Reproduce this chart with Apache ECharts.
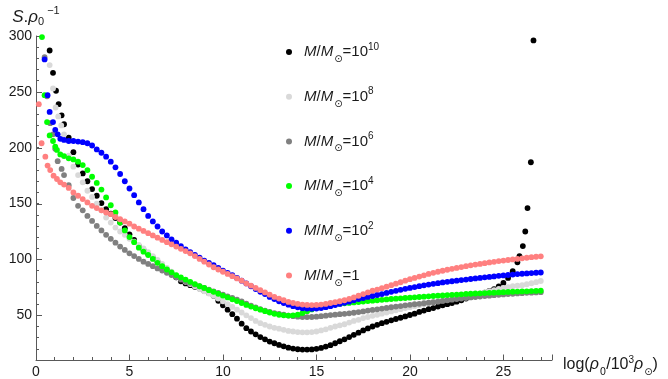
<!DOCTYPE html>
<html>
<head>
<meta charset="utf-8">
<script src="https://cdn.jsdelivr.net/npm/echarts@6/dist/echarts.min.js"></script>
<style>
  html, body { margin: 0; padding: 0; background: #fff; }
  #main { width: 668px; height: 379px; }
</style>
</head>
<body>
<div id="main"></div>
<script>
// shared x grid (log(rho0/10^3 rho_sun)) for the dense part of every curve
var xs = [1.5, 1.75,
  2, 2.25, 2.5, 2.75, 3, 3.25, 3.5, 3.75, 4, 4.25, 4.5, 4.75, 5, 5.25, 5.5, 5.75,
  6, 6.25, 6.5, 6.75, 7, 7.25, 7.5, 7.75, 8, 8.25, 8.5, 8.75, 9, 9.25, 9.5, 9.75,
  10, 10.25, 10.5, 10.75, 11, 11.25, 11.5, 11.75, 12, 12.25, 12.5, 12.75, 13, 13.25, 13.5, 13.75,
  14, 14.25, 14.5, 14.75, 15, 15.25, 15.5, 15.75, 16, 16.25, 16.5, 16.75, 17, 17.25, 17.5, 17.75,
  18, 18.25, 18.5, 18.75, 19, 19.25, 19.5, 19.75, 20, 20.25, 20.5, 20.75, 21, 21.25, 21.5, 21.75,
  22, 22.25, 22.5, 22.75, 23, 23.25, 23.5, 23.75, 24, 24.25, 24.5, 24.75, 25, 25.25, 25.5, 25.75,
  26, 26.25, 26.5, 26.75, 27];

// M/Msun = 10^10
var headBlack = [[0.73, 287], [0.91, 267], [1.07, 251], [1.21, 239], [1.37, 229]];
var yBlack = [221, 209,
  196, 185, 177, 170, 163, 157, 150.5, 145, 141, 137, 133, 128, 122.5, 117.5, 112, 108.5,
  105, 101.5, 98, 94.5, 91, 87.5, 84, 80.5, 78.5, 77, 75.5, 74, 72, 70, 67.5, 63,
  59, 55, 51, 47, 42.5, 38.5, 35.5, 33, 30.5, 28.5, 26.5, 25, 23.5, 22.2, 21, 20.2,
  19.6, 19.3, 19.3, 19.5, 20, 20.8, 22, 23.3, 25, 26.8, 28.5, 30.5, 32.5, 34.5, 36.5, 38.3,
  40, 41.5, 43, 44.2, 45.5, 46.7, 47.8, 49, 50.3, 51.5, 53, 54.2, 55.5, 56.5, 57.8, 59,
  60, 61, 62.2, 63.5, 65, 66.3, 67.7, 69, 70.3, 71.8, 73.5, 75.8, 79, 83.5, 89.5, 97.5,
  null, null, null, null, null];
var tailBlack = [[25.86, 103], [26.04, 112], [26.17, 125], [26.29, 146], [26.47, 187], [26.61, 296]];

// M/Msun = 10^8
var headLight = [[0.73, 274], [0.91, 253], [1.05, 236], [1.19, 228], [1.35, 220]];
var yLight = [212, 193,
  183, 175.5, 169, 161.5, 156, 150, 144, 137.5, 133, 128.5, 125, 122, 118.5, 116, 113, 110,
  106.5, 103, 99.5, 96, 92.5, 89, 85.5, 82.5, 80, 78, 76, 73.5, 71.5, 69.5, 67.5, 65,
  62.5, 60, 57.5, 55, 52.5, 50, 47.5, 45, 43, 41.5, 40, 38.8, 38, 37, 36, 35.5,
  35, 34.8, 34.8, 35, 35.5, 36.5, 37.5, 38.8, 40, 41, 42, 43.5, 45, 46, 47.5, 48.5,
  49.5, 50.5, 51.5, 52.5, 53.5, 54.5, 55.5, 56.5, 57.3, 58.2, 59, 60, 61, 61.8, 62.5, 63.3,
  64, 64.8, 65.5, 66.3, 67, 67.8, 68.7, 69.5, 70.5, 71.6, 72.6, 73.7, 74.6, 75.3, 76, 76.5,
  77, 77.8, 78.7, 79.7, 80.7];

// M/Msun = 10^6
var headGray = [[0.46, 281], [0.59, 246], [0.76, 222], [0.91, 212], [1.03, 199], [1.16, 188], [1.37, 181]];
var yGray = [175.5, 166.5,
  155, 148, 144, 139, 134.5, 130, 126, 122, 118.5, 115, 111.5, 108.5, 105.5, 103, 100.5, 98,
  96, 94, 92, 90, 88, 86, 84, 82, 80.5, 79, 77.5, 76, 74.5, 73, 71.5, 70,
  68.5, 67, 65.5, 64, 62.5, 60.5, 58.7, 57, 55.5, 54.2, 53, 52, 51.3, 50.5, 49.8, 49.2,
  48.8, 48.5, 48.4, 48.5, 48.8, 49.2, 49.7, 50.2, 50.6, 51, 51.3, 51.8, 52.3, 52.9, 53.5, 54.2,
  54.8, 55.4, 56, 56.6, 57.2, 57.8, 58.3, 58.9, 59.4, 59.9, 60.3, 60.8, 61.3, 61.8, 62.3, 62.9,
  63.5, 64, 64.5, 65, 65.5, 66, 66.4, 66.8, 67.2, 67.6, 68, 68.4, 68.7, 69, 69.3, 69.6,
  69.8, 70.1, 70.3, 70.5, 70.7];

// M/Msun = 10^4
var headGreen = [[0.32, 299], [0.46, 247], [0.59, 223], [0.73, 211], [0.91, 206], [1.03, 201], [1.12, 198], [1.3, 194]];
var yGreen = [192.5, 190.5,
  189.5, 187.5, 184.5, 180, 174, 168.5, 162.5, 155.5, 148.5, 142, 133, 126, 120, 115.5, 110.5, 107,
  104, 100.5, 97, 94, 91, 88.5, 86, 84, 82, 80, 78, 76, 74.5, 72.5, 71, 69.3,
  67.6, 66, 64.3, 62.7, 61, 59.3, 57.8, 56.3, 55, 53.7, 52.5, 51.3, 50.5, 50, 49.8, 50,
  50.6, 52, 53.7, 55.3, 56.6, 57.6, 58.5, 59.2, 59.8, 60.3, 60.7, 61.1, 61.5, 61.9, 62.3, 62.7,
  63.1, 63.5, 63.9, 64.2, 64.6, 64.9, 65.2, 65.5, 65.8, 66.1, 66.4, 66.7, 67, 67.3, 67.6, 67.8,
  68.1, 68.3, 68.6, 68.8, 69.1, 69.3, 69.5, 69.7, 69.9, 70.1, 70.3, 70.5, 70.7, 70.9, 71.1, 71.2,
  71.4, 71.5, 71.7, 71.8, 72];

// M/Msun = 10^2
var headBlue = [[0.46, 279], [0.62, 247], [0.73, 232], [0.91, 223], [1.03, 216], [1.16, 212], [1.3, 208]];
var yBlue = [207, 206,
  206, 205.5, 205, 204, 202, 198.5, 195.5, 192, 187.5, 182.5, 176.5, 170, 163.5, 157.5, 151, 145,
  139, 134, 129.5, 125, 121.5, 118, 115, 112, 109, 106.5, 104, 101.5, 99, 97, 95, 92.5,
  90, 88, 86, 83.5, 81, 78.5, 76, 73.5, 71, 69, 66.5, 64.5, 62.5, 61, 59.5, 58.2,
  57.2, 56.4, 56, 55.8, 56, 56.5, 57.3, 58.2, 59.2, 60.2, 61.2, 62.2, 63.5, 64.5, 65.5, 66.5,
  67.3, 68.2, 69, 70, 71, 71.9, 72.8, 73.7, 74.5, 75.3, 76.1, 76.8, 77.5, 78.2, 78.8, 79.4,
  80, 80.5, 81, 81.5, 82, 82.5, 83, 83.5, 84, 84.4, 84.8, 85.3, 85.7, 86.1, 86.5, 86.9,
  87.2, 87.5, 87.8, 88.1, 88.3];

// M/Msun = 1
var headPink = [[0.15, 239], [0.3, 204], [0.5, 192], [0.62, 184], [0.76, 180], [0.94, 175], [1.12, 172], [1.3, 169]];
var yPink = [167, 164,
  160, 157, 154, 151, 148, 146, 144, 142, 140.5, 138, 136, 134, 132, 129.5, 127.5, 125.5,
  123.5, 121.5, 119.5, 117.5, 115.5, 113.5, 111.5, 109.5, 107.5, 105.5, 103, 100.5, 98, 95.5, 93, 91,
  89, 87, 85, 83, 81, 78.5, 76.5, 74.5, 72.5, 70.5, 68.5, 66.5, 65, 63.5, 62, 61,
  60.2, 59.6, 59.3, 59.2, 59.3, 59.6, 60.2, 61, 61.8, 62.6, 63.5, 64.7, 66, 67.5, 69, 70.5,
  72, 73, 74.3, 75.6, 77, 78.3, 79.6, 81, 82.3, 83.5, 84.7, 85.8, 87, 88, 89, 89.9,
  90.8, 91.6, 92.4, 93.2, 94, 94.7, 95.4, 96, 96.7, 97.3, 97.9, 98.5, 99, 99.5, 100, 100.5,
  101, 101.5, 102, 102.4, 102.8];

var names = ['M/M⊙=10^10', 'M/M⊙=10^8', 'M/M⊙=10^6', 'M/M⊙=10^4', 'M/M⊙=10^2', 'M/M⊙=1'];
var exps = ['10', '8', '6', '4', '2', ''];
var colors = ['#000000', '#d9d9d9', '#808080', '#00ff00', '#0000ff', '#ff8080'];

var xMajor = [0, 5, 10, 15, 20, 25];
var yMajor = [50, 100, 150, 200, 250, 300];

function build(head, ys, tail) {
  var pts = head.slice();
  xs.forEach(function (x, i) {
    if (ys[i] != null) pts.push([x, ys[i]]);
  });
  return pts.concat(tail || []);
}

var seriesData = [
  build(headBlack, yBlack, tailBlack),
  build(headLight, yLight),
  build(headGray, yGray),
  build(headGreen, yGreen),
  build(headBlue, yBlue),
  build(headPink, yPink)
];

var FONT = '"Liberation Sans", Arial, sans-serif';
var AXIS = '#595959';
var TXT = '#1a1a1a';

var subSup = function (size, subDrop, supRise) {
  return {
    n: { fontSize: size, fontFamily: FONT, color: TXT, lineHeight: 20 },
    i: { fontSize: size, fontStyle: 'italic', fontFamily: FONT, color: TXT, lineHeight: 20 },
    sub: { fontSize: 10, fontFamily: 'DejaVu Sans', color: TXT, padding: [subDrop, 0, 0, 1], lineHeight: 10 },
    sup: { fontSize: 10, fontFamily: FONT, color: TXT, padding: [0, 0, supRise, 0], lineHeight: 10 }
  };
};

var chart = echarts.init(document.getElementById('main'), null, { renderer: 'canvas' });

// extra axes that only carry ticks
var tickAxis = function (base, len) {
  return Object.assign({
    type: 'value',
    axisLine: { show: false },
    axisLabel: { show: false },
    splitLine: { show: false },
    axisTick: { show: true, inside: true, length: len, lineStyle: { color: AXIS, width: 1 } }
  }, base);
};

chart.setOption({
  animation: false,
  backgroundColor: '#fff',
  textStyle: { fontFamily: FONT },
  grid: { left: 36, right: 116, top: 36, bottom: 17.6, containLabel: false },
  legend: {
    orient: 'vertical',
    left: 281,
    top: 34.5,
    itemWidth: 6,
    itemHeight: 6,
    itemGap: 19.7,
    icon: 'circle',
    data: names,
    formatter: function (name) {
      var e = exps[names.indexOf(name)];
      return '{i|M}{n|/}{i|M}{sub|⊙}' + (e ? '{n|=10}{sup|' + e + '}' : '{n|=1}');
    },
    textStyle: { padding: [0, 0, 0, 7], color: TXT, rich: subSup(15, 15, 10) }
  },
  xAxis: [{
    type: 'value',
    min: 0,
    max: 27.6,
    name: '{n|log(}{i|ρ}{sub|0}{n|/10}{sup|3}{i|ρ}{sub|⊙}{n|)}',
    nameLocation: 'end',
    nameGap: 11,
    nameTextStyle: { padding: [10, 0, 0, 0], rich: subSup(16, 14, 10) },
    axisLine: { lineStyle: { color: AXIS, width: 1 } },
    axisTick: { show: false },
    axisLabel: { customValues: xMajor, color: TXT, fontSize: 14, fontFamily: FONT, margin: 5 },
    splitLine: { show: false }
  },
  tickAxis({ min: 0, max: 27.6, interval: 1, position: 'bottom' }, 3),
  tickAxis({ min: 0, max: 27.6, interval: 5, position: 'bottom' }, 5.5)],
  yAxis: [{
    type: 'value',
    min: 10,
    max: 300,
    name: '{i|S}{n|.}{i|ρ}{sub|0}{sup|−1}',
    nameLocation: 'end',
    nameGap: 9,
    nameTextStyle: {
      rich: {
        n: { fontSize: 17, fontFamily: FONT, color: TXT, lineHeight: 20 },
        i: { fontSize: 17, fontStyle: 'italic', fontFamily: FONT, color: TXT, lineHeight: 20 },
        sub: { fontSize: 11, fontFamily: FONT, color: TXT, padding: [10, 0, 0, 0], lineHeight: 10 },
        sup: { fontSize: 11, fontFamily: FONT, color: TXT, padding: [0, 0, 12, 3], lineHeight: 10 }
      }
    },
    axisLine: { lineStyle: { color: AXIS, width: 1 } },
    axisTick: { show: false },
    axisLabel: { customValues: yMajor, color: TXT, fontSize: 14, fontFamily: FONT, margin: 4 },
    splitLine: { show: false }
  },
  tickAxis({ min: 10, max: 300, interval: 10, position: 'left' }, 3)],
  series: names.map(function (n, i) {
    return {
      name: n,
      type: 'scatter',
      data: seriesData[i],
      symbol: 'circle',
      symbolSize: 5.8,
      itemStyle: { color: colors[i], opacity: 1 },
      emphasis: { disabled: true },
      silent: true
    };
  })
});

// longer major ticks on the y axis, placed through the axis scale
var x0 = chart.convertToPixel({ xAxisIndex: 0 }, 0);
chart.setOption({
  graphic: yMajor.map(function (v) {
    var py = Math.round(chart.convertToPixel({ yAxisIndex: 0 }, v)) + 0.5;
    return {
      type: 'line',
      silent: true,
      shape: { x1: x0, y1: py, x2: x0 + 6, y2: py },
      style: { stroke: AXIS, lineWidth: 1 }
    };
  })
});
</script>
</body>
</html>
